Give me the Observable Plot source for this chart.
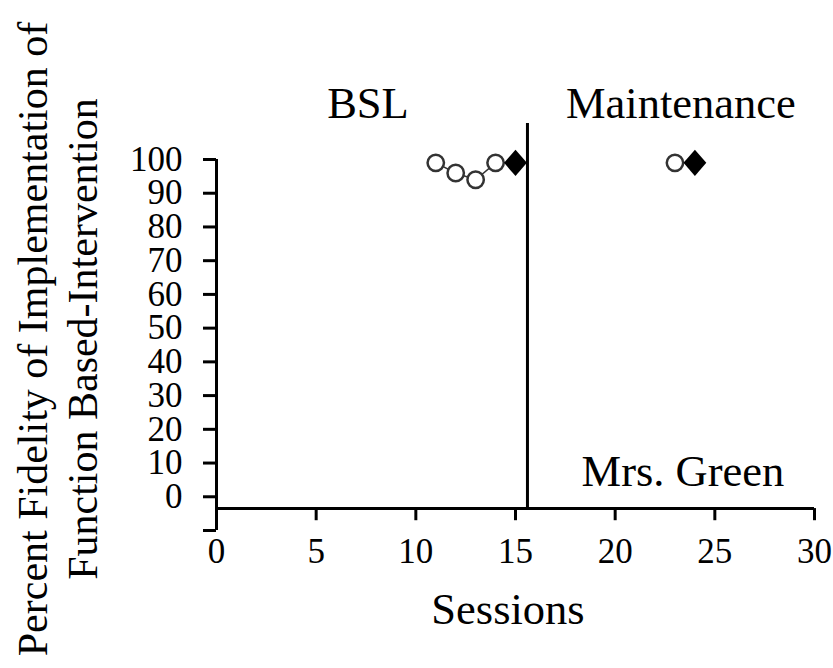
<!DOCTYPE html>
<html>
<head>
<meta charset="utf-8">
<script src="https://cdn.jsdelivr.net/npm/d3@7"></script>
<script src="https://cdn.jsdelivr.net/npm/@observablehq/plot@0.6"></script>
<style>
  html, body { margin: 0; padding: 0; background: #fff; }
</style>
</head>
<body>
<div id="chart"></div>
<script>
// ---- data ----
const sessionsBSL = [11, 12, 13, 14];
const fidelityBSL = [99, 96, 94, 99];
const sessionsFilled = [15, 24];
const fidelityFilled = [99, 99];
const sessionsMaint = [23];
const fidelityMaint = [99];
const phaseChangeSession = 15.6;
const phaseLineTop = 110.7;
const xAxisCrossing = -3.5;
const xTicks = [0, 5, 10, 15, 20, 25, 30];
const yTicks = [-10, 0, 10, 20, 30, 40, 50, 60, 70, 80, 90, 100];
const phaseLabels = ["BSL", "Maintenance"];
const phaseLabelX = [7.6, 23.3];
const phaseLabelY = 112.3;
const participantLabel = "Mrs. Green";
const participantX = 23.4;
const participantY = 3.3;
const xTitle = "Sessions";
const yTitle = "Percent Fidelity of Implementation of\nFunction Based-Intervention";

const bsl = sessionsBSL.map((s, i) => ({session: s, value: fidelityBSL[i]}));
const maint = sessionsMaint.map((s, i) => ({session: s, value: fidelityMaint[i]}));
const filled = sessionsFilled.map((s, i) => ({session: s, value: fidelityFilled[i]}));

const diamondSymbol = {
  draw(ctx, size) {
    const r = Math.sqrt(size / Math.PI);
    ctx.moveTo(0, -r * 1.1);
    ctx.lineTo(r * 0.95, 0);
    ctx.lineTo(0, r * 1.1);
    ctx.lineTo(-r * 0.95, 0);
    ctx.closePath();
  }
};

const font = "'Liberation Serif', 'Times New Roman', serif";

const chart = Plot.plot({
  width: 833,
  height: 668,
  marginLeft: 216,
  marginRight: 19,
  marginTop: 159,
  marginBottom: 138,
  style: {fontFamily: font, background: "#fff", color: "#000"},
  x: {domain: [0, 30]},
  y: {domain: [-10, 100]},
  marks: [
    Plot.axisY({ticks: yTicks, tickSize: 13, tickPadding: 21, tickFormat: d => d < 0 ? "" : d, fontSize: 35, strokeWidth: 3, label: null}),
    Plot.axisX({ticks: xTicks, tickSize: 0, tickPadding: 8, fontSize: 35, label: null}),
    Plot.ruleX([0], {y1: -10, y2: 100, strokeWidth: 3}),
    Plot.ruleY([xAxisCrossing], {x1: 0, x2: 30, strokeWidth: 3}),
    Plot.ruleX(xTicks, {y1: xAxisCrossing, y2: xAxisCrossing - 3.6, strokeWidth: 3}),
    Plot.ruleX([phaseChangeSession], {y1: xAxisCrossing, y2: phaseLineTop, strokeWidth: 3}),
    Plot.line(bsl, {x: "session", y: "value", stroke: "#333", strokeWidth: 1.5}),
    Plot.dot(bsl, {x: "session", y: "value", r: 8.2, symbol: "circle", stroke: "#333", strokeWidth: 2.5, fill: "#fff"}),
    Plot.dot(maint, {x: "session", y: "value", r: 8.2, symbol: "circle", stroke: "#333", strokeWidth: 2.5, fill: "#fff"}),
    Plot.dot(filled, {x: "session", y: "value", r: 12, symbol: diamondSymbol, fill: "#000", stroke: "none"}),
    Plot.text(phaseLabels, {x: (d, i) => phaseLabelX[i], y: phaseLabelY, text: d => d, fontSize: 44.5, lineAnchor: "bottom", fill: "#000"}),
    Plot.text([participantLabel], {x: participantX, y: participantY, text: d => d, fontSize: 44.5, lineAnchor: "bottom", fill: "#000"}),
    Plot.text([xTitle], {frameAnchor: "bottom", text: d => d, dx: -7.5, dy: 93.3, fontSize: 44.5, lineAnchor: "bottom", textAnchor: "middle", fill: "#000"}),
    Plot.text([yTitle], {frameAnchor: "left", text: d => d, dx: -120, dy: -6, rotate: -90, fontSize: 42, lineHeight: 1.17, lineAnchor: "bottom", textAnchor: "middle", fill: "#000"})
  ]
});
document.getElementById("chart").appendChild(chart);
</script>
</body>
</html>
